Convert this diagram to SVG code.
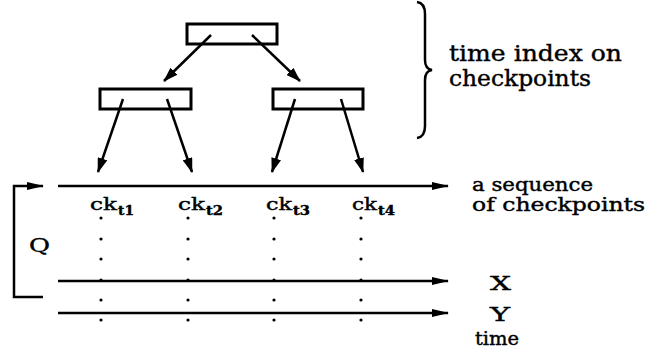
<svg xmlns="http://www.w3.org/2000/svg" width="652" height="351" viewBox="0 0 652 351">
<defs>
<style>
.box{fill:#fff;stroke:#000;stroke-width:3}
.ln{fill:none;stroke:#000;stroke-width:2.5}
.t{font-family:"DejaVu Serif","Liberation Serif",serif;fill:#000;stroke:#000;stroke-width:0.4}
.big{font-size:22px}
.med{font-size:18px}
.lbl{font-size:19px}
.ck{font-size:16px}
.sub{font-size:12px;font-weight:bold}
.dot{fill:#000}
</style>
<marker id="ah" markerUnits="userSpaceOnUse" viewBox="0 0 15 10" refX="14" refY="5" markerWidth="15" markerHeight="10" orient="auto">
<path d="M0,0 L15,5 L0,10 z" fill="#000"/>
</marker>
<marker id="ah2" markerUnits="userSpaceOnUse" viewBox="0 0 17 8" refX="16" refY="4" markerWidth="17" markerHeight="8" orient="auto">
<path d="M0,0 L17,4 L0,8 z" fill="#000"/>
</marker>
</defs>

<g id="root"><rect class="box" x="187" y="24" width="90" height="20"/></g>
<g id="left"><rect class="box" x="100" y="89" width="91" height="20"/></g>
<g id="right"><rect class="box" x="273" y="89" width="90" height="20"/></g>

<g id="connectors">
<line class="ln" x1="211" y1="35" x2="164" y2="81" marker-end="url(#ah)"/>
<line class="ln" x1="252" y1="35" x2="300" y2="81" marker-end="url(#ah)"/>
<line class="ln" x1="123" y1="99" x2="98" y2="172" marker-end="url(#ah)"/>
<line class="ln" x1="167" y1="99" x2="192" y2="172" marker-end="url(#ah)"/>
<line class="ln" x1="295" y1="99" x2="272" y2="172" marker-end="url(#ah)"/>
<line class="ln" x1="341" y1="99" x2="363" y2="172" marker-end="url(#ah)"/>
<line class="ln" x1="58" y1="186" x2="448" y2="186" marker-end="url(#ah2)"/>
<line class="ln" x1="58" y1="281" x2="448" y2="281" marker-end="url(#ah2)"/>
<line class="ln" x1="58" y1="313" x2="448" y2="313" marker-end="url(#ah2)"/>
<path class="ln" d="M43,297 L14,297 L14,186 L43,186" marker-end="url(#ah2)"/>
</g>

<g id="brace">
<path d="M417,2 Q425,3 425,14 L425,60 Q425,69 432,70 Q425,71 425,80 L425,126 Q425,137 417,138" fill="none" stroke="#000" stroke-width="2.5"/>
</g>

<g id="dots">
<circle class="dot" cx="101" cy="218" r="1.6"/><circle class="dot" cx="101" cy="239" r="1.6"/><circle class="dot" cx="101" cy="259" r="1.6"/><circle class="dot" cx="101" cy="280" r="1.6"/><circle class="dot" cx="101" cy="300" r="1.6"/><circle class="dot" cx="101" cy="320" r="1.6"/>
<circle class="dot" cx="188" cy="218" r="1.6"/><circle class="dot" cx="188" cy="239" r="1.6"/><circle class="dot" cx="188" cy="259" r="1.6"/><circle class="dot" cx="188" cy="280" r="1.6"/><circle class="dot" cx="188" cy="300" r="1.6"/><circle class="dot" cx="188" cy="320" r="1.6"/>
<circle class="dot" cx="274" cy="218" r="1.6"/><circle class="dot" cx="274" cy="239" r="1.6"/><circle class="dot" cx="274" cy="259" r="1.6"/><circle class="dot" cx="274" cy="280" r="1.6"/><circle class="dot" cx="274" cy="300" r="1.6"/><circle class="dot" cx="274" cy="320" r="1.6"/>
<circle class="dot" cx="361" cy="218" r="1.6"/><circle class="dot" cx="361" cy="239" r="1.6"/><circle class="dot" cx="361" cy="259" r="1.6"/><circle class="dot" cx="361" cy="280" r="1.6"/><circle class="dot" cx="361" cy="300" r="1.6"/><circle class="dot" cx="361" cy="320" r="1.6"/>
</g>

<g id="labels">
<text class="t big" x="449" y="61" textLength="173" lengthAdjust="spacingAndGlyphs">time index on</text>
<text class="t big" x="449" y="86" textLength="142" lengthAdjust="spacingAndGlyphs">checkpoints</text>
<text class="t med" x="472" y="191" textLength="121" lengthAdjust="spacingAndGlyphs">a sequence</text>
<text class="t med" x="472" y="211" textLength="173" lengthAdjust="spacingAndGlyphs">of checkpoints</text>
<text class="t lbl" x="490" y="290" textLength="21" lengthAdjust="spacingAndGlyphs">X</text>
<text class="t lbl" x="490" y="321" textLength="20" lengthAdjust="spacingAndGlyphs">Y</text>
<text class="t med" x="475" y="345" textLength="44" lengthAdjust="spacingAndGlyphs">time</text>
<text class="t lbl" x="29" y="252" textLength="21" lengthAdjust="spacingAndGlyphs">Q</text>
</g>

<g id="ck1"><text class="t ck" x="90" y="210" textLength="27" lengthAdjust="spacingAndGlyphs">ck</text><text class="t sub" x="118" y="215" textLength="16" lengthAdjust="spacingAndGlyphs">t1</text></g>
<g id="ck2"><text class="t ck" x="178" y="210" textLength="27" lengthAdjust="spacingAndGlyphs">ck</text><text class="t sub" x="206" y="215" textLength="17" lengthAdjust="spacingAndGlyphs">t2</text></g>
<g id="ck3"><text class="t ck" x="266" y="210" textLength="26" lengthAdjust="spacingAndGlyphs">ck</text><text class="t sub" x="293" y="215" textLength="17" lengthAdjust="spacingAndGlyphs">t3</text></g>
<g id="ck4"><text class="t ck" x="352" y="210" textLength="25" lengthAdjust="spacingAndGlyphs">ck</text><text class="t sub" x="378" y="215" textLength="17" lengthAdjust="spacingAndGlyphs">t4</text></g>
</svg>
